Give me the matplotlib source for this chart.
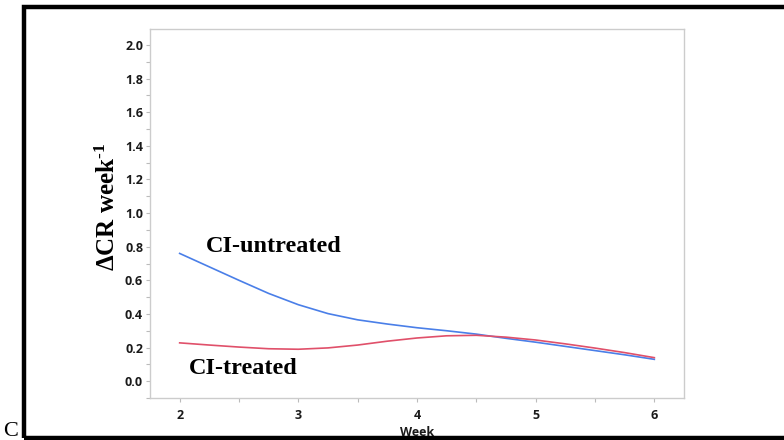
import matplotlib
matplotlib.use('Agg')
import matplotlib.pyplot as plt
from matplotlib.patches import Rectangle
from matplotlib.ticker import MultipleLocator

# Datos
semanas = [2.0, 2.25, 2.5, 2.75, 3.0, 3.25, 3.5, 3.75, 4.0,
           4.25, 4.5, 4.75, 5.0, 5.25, 5.5, 5.75, 6.0]
ci_untreated = [0.76, 0.68, 0.60, 0.522, 0.455, 0.402, 0.365, 0.34, 0.318,
                0.30, 0.28, 0.255, 0.232, 0.207, 0.182, 0.157, 0.13]
ci_treated = [0.228, 0.215, 0.203, 0.193, 0.19, 0.198, 0.215, 0.238, 0.257,
              0.27, 0.273, 0.262, 0.245, 0.222, 0.197, 0.17, 0.14]
y_ticks = [0.0, 0.2, 0.4, 0.6, 0.8, 1.0, 1.2, 1.4, 1.6, 1.8, 2.0]
x_ticks = [2, 3, 4, 5, 6]

plt.rcParams['mathtext.fontset'] = 'custom'
plt.rcParams['mathtext.rm'] = 'Liberation Serif:bold'
plt.rcParams['mathtext.it'] = 'Liberation Serif:italic:bold'
plt.rcParams['mathtext.bf'] = 'Liberation Serif:bold'

fig = plt.figure(figsize=(7.84, 4.40), dpi=100)
ax = fig.add_axes([150 / 784, 1 - 398 / 440, 534 / 784, 369 / 440])

ax.plot(semanas, ci_untreated, color='#4a7fe8', lw=1.2)
ax.plot(semanas, ci_treated, color='#e0506a', lw=1.2)

ax.set_xlim(1.75, 6.25)
ax.set_ylim(-0.1, 2.095)
ax.set_xticks(x_ticks)
ax.set_yticks(y_ticks)
ax.set_yticklabels([f'{v:.1f}' for v in y_ticks])
ax.xaxis.set_minor_locator(MultipleLocator(0.5))
ax.yaxis.set_minor_locator(MultipleLocator(0.1))

for s in ax.spines.values():
    s.set_color('#cccccc')
    s.set_linewidth(1.0)
ax.tick_params(which='both', color='#bbbbbb', direction='out', length=3, width=0.8)
ax.tick_params(axis='y', pad=2)
ax.tick_params(axis='x', pad=5)
for lbl in ax.get_xticklabels() + ax.get_yticklabels():
    lbl.set_fontfamily('Open Sans')
    lbl.set_fontweight('bold')
    lbl.set_fontsize(9)
    lbl.set_color('#1a1a1a')

ax.set_xlabel('Week', fontfamily='Open Sans', fontweight='bold', fontsize=9,
              labelpad=3, color='#1a1a1a')
ax.set_ylabel(r'ΔCR week$^{\text{-1}}$', fontfamily='Liberation Serif', fontweight='bold',
              fontsize=18, va='center')
ax.yaxis.set_label_coords(-0.079, 0.518)

ax.text(2.79, 0.80, 'CI-untreated', fontfamily='Liberation Serif', fontweight='bold',
        fontsize=17.5, ha='center', va='center')
ax.text(2.54, 0.077, 'CI-treated', fontfamily='Liberation Serif', fontweight='bold',
        fontsize=17.5, ha='center', va='center')

# Marco negro del panel
fig.patches.append(Rectangle((24 / 784, 2 / 440), 0.99, 431 / 440, transform=fig.transFigure,
                             fill=False, edgecolor='black', linewidth=3.2, clip_on=False))
fig.text(3 / 784, 4 / 440, 'C', fontfamily='Liberation Serif', fontsize=16,
         ha='left', va='baseline')

fig.savefig('out.png', dpi=100)
